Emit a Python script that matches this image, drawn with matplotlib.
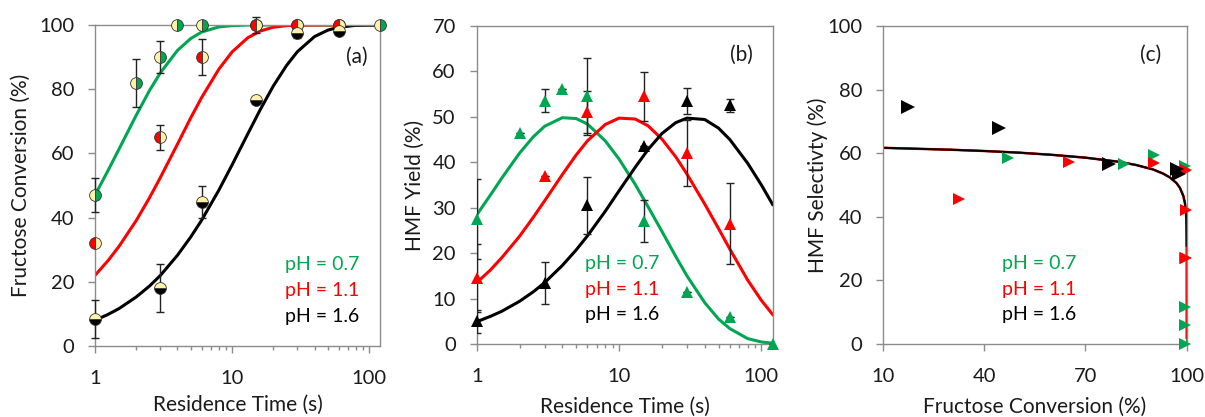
import matplotlib
matplotlib.use('Agg')
import matplotlib.pyplot as plt
from matplotlib.ticker import LogLocator, NullFormatter

plt.rcParams['font.family'] = ['Lato', 'DejaVu Sans']

GREEN = '#00A651'
RED = '#FF0000'
BLACK = '#000000'
CREAM = '#FFF2A8'
SPINE = '#8C8C8C'
TEXT = '#1A1A1A'

LABELS = ['pH = 0.7', 'pH = 1.1', 'pH = 1.6']

# ---- (a) fructose conversion vs residence time ----
conv_t_07 = [1, 2, 3, 4, 6, 15, 30, 60, 120]
conv_07 = [47, 82, 90, 100, 100, 100, 100, 100, 100]
conv_err_07 = [5.3, 7.5, 5, 0, 0, 2.5, 0, 0, 0]
conv_t_11 = [1, 3, 6, 15, 30, 60]
conv_11 = [32, 65, 90, 100, 100, 100]
conv_err_11 = [0, 4, 5.5, 0, 0, 0]
conv_t_16 = [1, 3, 6, 15, 30, 60]
conv_16 = [8.5, 18, 45, 76.5, 97.5, 98]
conv_err_16 = [6, 7.5, 5, 0, 1.5, 0]

# fitted curves
fit_t = [1, 1.25, 1.5, 2, 2.5, 3, 4, 5, 6, 8, 10, 13, 16, 20, 25, 30, 40, 50, 60, 80, 100, 120]
conv_fit_07 = [47.0, 54.8, 61.4, 71.9, 79.6, 85.1, 92.1, 95.8, 97.8, 99.4, 99.8, 100, 100, 100,
               100, 100, 100, 100, 100, 100, 100, 100]
conv_fit_11 = [22.0, 26.7, 31.1, 39.1, 46.2, 52.5, 62.9, 71.1, 77.4, 86.2, 91.6, 96.0, 98.1, 99.3,
               99.8, 99.9, 100, 100, 100, 100, 100, 100]
conv_fit_16 = [8.0, 9.9, 11.7, 15.3, 18.7, 22.0, 28.3, 34.0, 39.2, 48.5, 56.4, 66.0, 73.5, 81.0,
               87.4, 91.7, 96.4, 98.4, 99.3, 99.9, 100, 100]

# ---- (b) HMF yield vs residence time ----
yld_t_07 = [1, 2, 3, 4, 6, 15, 30, 60, 120]
yld_07 = [27.5, 46.5, 53.5, 56, 54.5, 27, 11.5, 6, 0]
yld_err_07 = [8.8, 0, 2.5, 0, 8.5, 4.6, 0, 0, 0]
yld_t_11 = [1, 3, 6, 15, 30, 60]
yld_11 = [14.5, 37, 51, 54.5, 42, 26.5]
yld_err_11 = [7.5, 0, 4.6, 5.4, 7.2, 8.9]
yld_t_16 = [1, 3, 6, 15, 30, 60]
yld_16 = [5, 13.5, 30.5, 43.5, 53.5, 52.5]
yld_err_16 = [2.5, 4.6, 6.3, 0, 2.8, 1.5]

yld_fit_07 = [28.4, 32.8, 36.5, 42.0, 45.6, 47.9, 49.8, 49.6, 48.4, 44.7, 40.7, 35.1, 30.2, 24.8,
              19.3, 15.0, 9.1, 5.5, 3.4, 1.2, 0.45, 0.17]
yld_fit_11 = [13.5, 16.3, 19.0, 23.7, 27.9, 31.5, 37.3, 41.6, 44.7, 48.3, 49.7, 49.5, 48.0, 45.1,
              41.2, 37.4, 30.8, 25.4, 20.9, 14.1, 9.6, 6.5]
yld_fit_16 = [4.9, 6.1, 7.2, 9.4, 11.5, 13.5, 17.3, 20.7, 23.8, 29.2, 33.7, 38.9, 42.8, 46.3,
              48.7, 49.7, 49.4, 47.5, 45.0, 39.8, 35.0, 30.7]

# ---- (c) HMF selectivity vs fructose conversion ----
sel_x_07 = [47, 81.5, 90.2, 99.6, 99.6, 99.6, 99.6, 99.6, 99.6]
sel_07 = [58.5, 56.7, 59.5, 56, 54.5, 27, 11.5, 6, 0]
sel_x_11 = [32.5, 65, 90.2, 99.7, 99.7, 99.7]
sel_11 = [45.5, 57.2, 57, 54.8, 42, 27]
sel_x_16 = [17.5, 44.5, 77, 97, 97.7]
sel_16 = [74.5, 68, 56.7, 54.9, 53.6]

sel_fit_x = [10, 20, 30, 40, 50, 60, 70, 80, 85, 90, 93, 95, 97, 98, 99, 99.5, 99.8, 99.9,
             99.95, 99.99, 99.995]
sel_fit = [61.7, 61.4, 61.1, 60.7, 60.2, 59.5, 58.6, 57.3, 56.3, 54.9, 53.6, 52.4, 50.6, 49.1,
           46.6, 44.2, 41.2, 39.0, 37.0, 32.6, 30.9]
sel_tail_x_11 = [99.995, 99.999]
sel_tail_11 = [30.9, 2]
sel_tail_x_07 = [99.999, 99.999]
sel_tail_07 = [2, 0]


def style_axes(ax):
    for s in ax.spines.values():
        s.set_color(SPINE)
        s.set_linewidth(1.0)
    ax.tick_params(which='major', direction='out', length=5, width=1, color=SPINE,
                   labelsize=14.5, labelcolor=TEXT)
    ax.tick_params(which='minor', direction='out', length=3, width=1, color=SPINE)
    ax.tick_params(axis='x', which='major', pad=12)
    ax.tick_params(axis='y', which='major', pad=10)
    ax.tick_params(top=False, right=False, which='both')


def log_time_axis(ax):
    ax.set_xscale('log')
    ax.set_xlim(1, 120)
    ax.set_xticks([1, 10, 100])
    ax.set_xticklabels(['1', '10', '100'])
    ax.xaxis.set_minor_locator(LogLocator(base=10, subs=range(2, 10)))
    ax.xaxis.set_minor_formatter(NullFormatter())


def labels(ax, xlabel, ylabel, ylx, xly, tag, tagpos, legx):
    ax.set_xlabel(xlabel, fontsize=15, color=TEXT)
    ax.set_ylabel(ylabel, fontsize=15, color=TEXT)
    ax.yaxis.set_label_coords(ylx, 0.5)
    ax.yaxis.label.set_va('center')
    ax.xaxis.set_label_coords(0.5, xly)
    ax.xaxis.label.set_va('center')
    ax.text(tagpos[0], tagpos[1], tag, transform=ax.transAxes, fontsize=15,
            ha='center', va='center', color=TEXT)
    for lab, col, yy in zip(LABELS, [GREEN, RED, BLACK], [0.254, 0.172, 0.093]):
        ax.text(legx, yy, lab, transform=ax.transAxes, fontsize=14, color=col,
                ha='left', va='center')


fig = plt.figure(figsize=(12.05, 4.17), dpi=100)
ax1 = fig.add_axes([0.0788, 0.170, 0.2365, 0.770])
ax2 = fig.add_axes([0.3956, 0.175, 0.2456, 0.763])
ax3 = fig.add_axes([0.7328, 0.175, 0.2520, 0.7626])

# (a)
for fit, col in [(conv_fit_07, GREEN), (conv_fit_11, RED), (conv_fit_16, BLACK)]:
    ax1.plot(fit_t, fit, color=col, lw=2.2, zorder=2)
series_a = [
    (conv_t_07, conv_07, conv_err_07, GREEN, 'right'),
    (conv_t_11, conv_11, conv_err_11, RED, 'left'),
    (conv_t_16, conv_16, conv_err_16, BLACK, 'bottom'),
]
for t, y, e, col, fs in series_a:
    ax1.errorbar(t, y, yerr=e, fmt='none', ecolor='#222222', elinewidth=1, capsize=3,
                 capthick=1, zorder=3, clip_on=False)
    ax1.plot(t, y, 'o', ms=8.5, color=col, fillstyle=fs, markerfacecoloralt=CREAM,
             markeredgecolor='#333333', markeredgewidth=0.6, zorder=4, clip_on=False)
log_time_axis(ax1)
ax1.set_ylim(0, 100)
ax1.set_yticks(range(0, 101, 20))
style_axes(ax1)
labels(ax1, 'Residence Time (s)', 'Fructose Conversion (%)', -0.26, -0.184, '(a)',
       (0.919, 0.90), 0.667)

# (b)
for fit, col in [(yld_fit_07, GREEN), (yld_fit_11, RED), (yld_fit_16, BLACK)]:
    ax2.plot(fit_t, fit, color=col, lw=2.2, zorder=2)
series_b = [
    (yld_t_07, yld_07, yld_err_07, GREEN),
    (yld_t_11, yld_11, yld_err_11, RED),
    (yld_t_16, yld_16, yld_err_16, BLACK),
]
for t, y, e, col in series_b:
    ax2.errorbar(t, y, yerr=e, fmt='none', ecolor='#222222', elinewidth=1, capsize=3,
                 capthick=1, zorder=3)
    ax2.plot(t, y, '^', ms=9, color=col, markeredgewidth=0, zorder=4, clip_on=False)
log_time_axis(ax2)
ax2.set_ylim(0, 70)
ax2.set_yticks(range(0, 71, 10))
style_axes(ax2)
labels(ax2, 'Residence Time (s)', 'HMF Yield (%)', -0.208, -0.197, '(b)',
       (0.895, 0.908), 0.366)

# (c)
ax3.plot(sel_tail_x_07, sel_tail_07, color=GREEN, lw=1.5, zorder=2)
ax3.plot(sel_fit_x, sel_fit, color=GREEN, lw=1.5, zorder=2)
ax3.plot(sel_fit_x + sel_tail_x_11, sel_fit + sel_tail_11, color=RED, lw=1.8, zorder=2)
ax3.plot(sel_fit_x, sel_fit, color=BLACK, lw=1.4, zorder=2)
for x, y, col, ms in [(sel_x_07, sel_07, GREEN, 8.5), (sel_x_11, sel_11, RED, 8.5),
                      (sel_x_16, sel_16, BLACK, 10)]:
    ax3.plot(x, y, '>', ms=ms, color=col, markeredgewidth=0, zorder=4, clip_on=False)
ax3.set_xlim(10, 100)
ax3.set_ylim(0, 100)
ax3.set_xticks([10, 40, 70, 100])
ax3.set_yticks(range(0, 101, 20))
style_axes(ax3)
labels(ax3, 'Fructose Conversion (%)', 'HMF Selectivty (%)', -0.214, -0.197, '(c)',
       (0.881, 0.909), 0.391)

fig.savefig('out.png', dpi=100)
